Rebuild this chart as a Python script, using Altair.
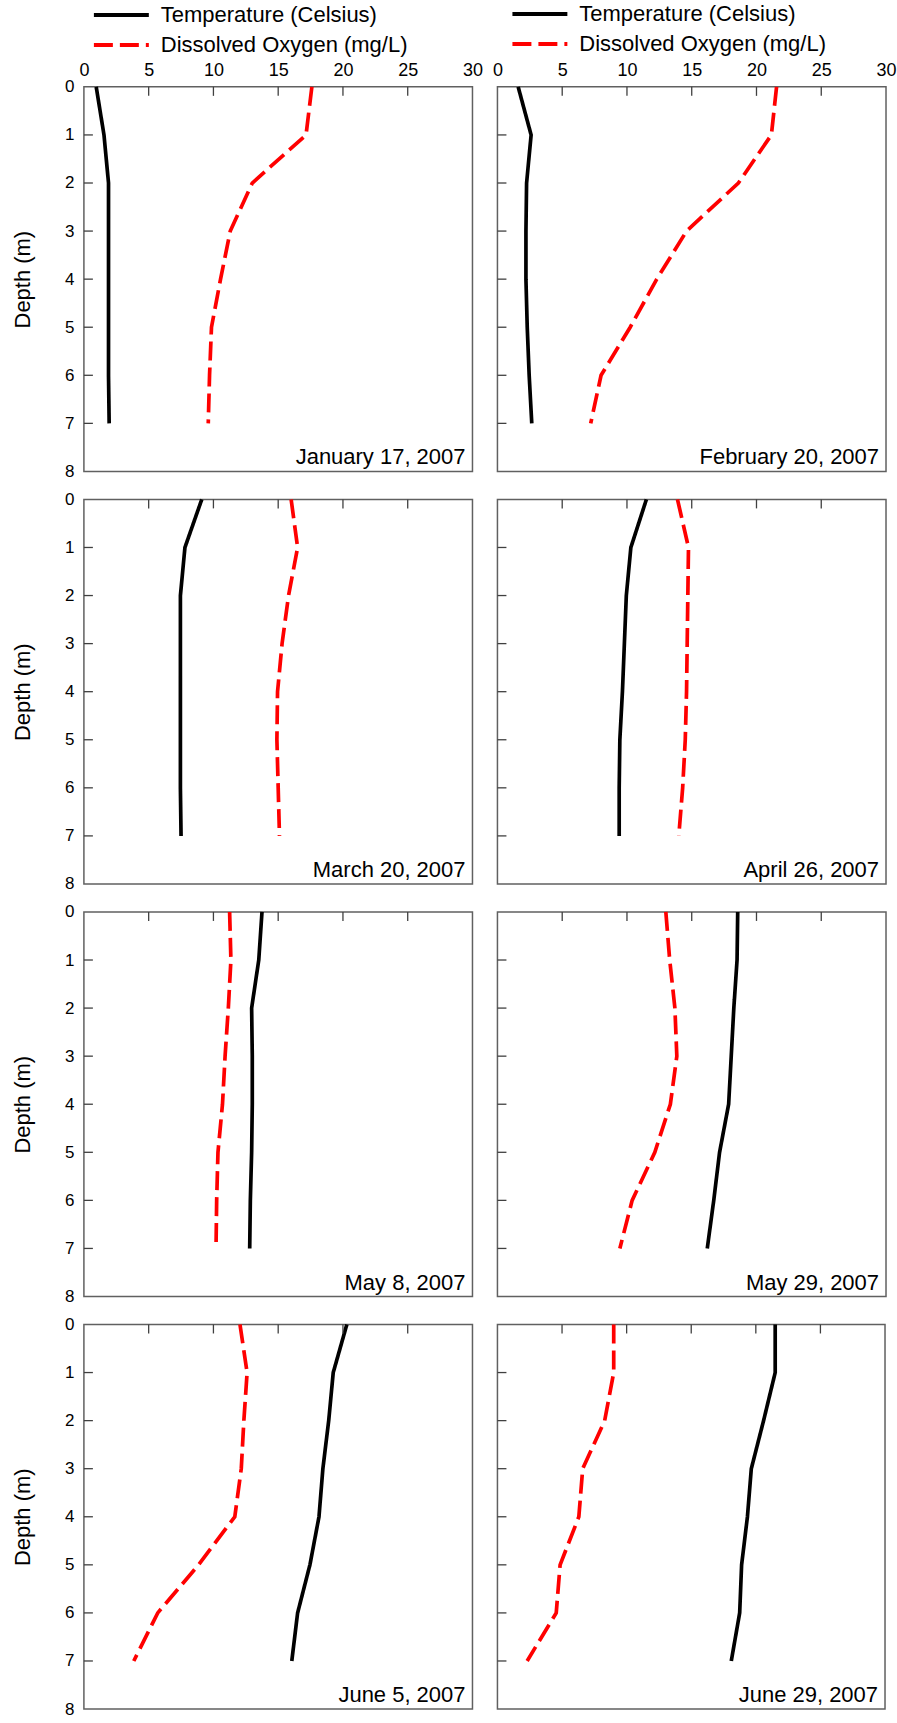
import altair as alt
import pandas as pd

# ---------------- data ----------------
depth = [0, 1, 2, 3, 4, 5, 6, 7]

dates = ["January 17, 2007", "February 20, 2007", "March 20, 2007", "April 26, 2007",
         "May 8, 2007", "May 29, 2007", "June 5, 2007", "June 29, 2007"]

temp_jan = [0.95, 1.55, 1.9, 1.9, 1.9, 1.9, 1.9, 1.95]
do_jan = [17.6, 17.15, 13.0, 11.3, 10.55, 9.85, 9.7, 9.6]
temp_feb = [1.6, 2.6, 2.25, 2.2, 2.2, 2.3, 2.45, 2.65]
do_feb = [21.55, 21.15, 18.6, 14.6, 12.3, 10.25, 8.0, 7.2]
temp_mar = [9.1, 7.8, 7.45, 7.45, 7.45, 7.45, 7.45, 7.5]
do_mar = [16.0, 16.5, 15.8, 15.3, 14.95, 14.9, 15.0, 15.1]
temp_apr = [11.5, 10.3, 9.95, 9.8, 9.65, 9.45, 9.4, 9.4]
do_apr = [13.9, 14.75, 14.7, 14.65, 14.6, 14.5, 14.3, 14.0]
temp_may8 = [13.75, 13.5, 12.95, 13.0, 13.0, 12.95, 12.85, 12.8]
do_may8 = [11.25, 11.35, 11.15, 10.9, 10.7, 10.35, 10.25, 10.2]
temp_may29 = [18.55, 18.5, 18.25, 18.05, 17.85, 17.15, 16.7, 16.2]
do_may29 = [13.0, 13.3, 13.7, 13.85, 13.35, 12.15, 10.4, 9.45]
temp_jun5 = [20.3, 19.25, 18.9, 18.45, 18.15, 17.45, 16.5, 16.05]
do_jun5 = [12.05, 12.6, 12.35, 12.15, 11.65, 8.85, 5.7, 3.85]
temp_jun29 = [21.5, 21.5, 20.6, 19.65, 19.35, 18.9, 18.75, 18.1]
do_jun29 = [9.0, 9.0, 8.3, 6.6, 6.3, 4.85, 4.55, 2.3]

x_tick_labels = [0, 5, 10, 15, 20, 25, 30]
y_tick_labels = [0, 1, 2, 3, 4, 5, 6, 7, 8]
x_inner_ticks = [5, 10, 15, 20, 25]
y_inner_ticks = [1, 2, 3, 4, 5, 6, 7]

series_names = ["Temperature (Celsius)", "Dissolved Oxygen (mg/L)"]

# ---------------- styling ----------------
FONT = "Liberation Sans, Arial, sans-serif"
W, H = 389, 385
TICK_COLOR = "#404040"


def make_panel(date, temp, dox, top, left, legend_pos=None, width=W):
    df = pd.DataFrame({
        "depth": depth + depth,
        "value": temp + dox,
        "variable": [series_names[0]] * len(depth) + [series_names[1]] * len(depth),
    })
    xscale = alt.Scale(domain=[0, 30], nice=False, zero=False)
    yscale = alt.Scale(domain=[0, 8], reverse=True, nice=False, zero=False)

    if top:
        xaxis = alt.Axis(orient="top", values=x_tick_labels, ticks=False, tickSize=0, domain=False,
                         grid=False, labelFontSize=18, labelPadding=11, labelBaseline="alphabetic",
                         labelFont=FONT, labelColor="black", title=None, labelFlush=False)
    else:
        xaxis = None
    if left:
        yaxis = alt.Axis(values=y_tick_labels, ticks=False, tickSize=0, domain=False, grid=False,
                         labelFontSize=17, labelPadding=10, labelFont=FONT, labelColor="black",
                         title="Depth (m)", titleFontSize=22, titleFontWeight="normal",
                         titleFont=FONT, titleColor="black", titlePadding=30)
    else:
        yaxis = None

    if legend_pos is not None:
        legend = alt.Legend(orient="none", legendX=legend_pos[0], legendY=legend_pos[1],
                            direction="vertical", title=None, labelFontSize=22, labelFont=FONT,
                            labelColor="black", symbolType="M-1,0H1", symbolSize=3025,
                            symbolStrokeWidth=4, labelOffset=10, rowPadding=6, clipHeight=24,
                            padding=0, labelLimit=400)
    else:
        legend = None

    lines = alt.Chart(df).mark_line(strokeWidth=3.7).encode(
        x=alt.X("value:Q", scale=xscale, axis=xaxis),
        y=alt.Y("depth:Q", scale=yscale, axis=yaxis),
        color=alt.Color("variable:N", scale=alt.Scale(domain=series_names, range=["black", "#ff0000"]),
                        legend=legend),
        strokeDash=alt.StrokeDash("variable:N",
                                  scale=alt.Scale(domain=series_names, range=[[1, 0], [19, 7]]),
                                  legend=legend),
        order=alt.Order("depth:Q"),
    )

    xt = alt.Chart(pd.DataFrame({"t": x_inner_ticks})).mark_rule(color=TICK_COLOR, strokeWidth=1.3).encode(
        x=alt.X("t:Q", scale=xscale, axis=xaxis),
        y=alt.value(0), y2=alt.value(9),
    )
    yt = alt.Chart(pd.DataFrame({"t": y_inner_ticks})).mark_rule(color=TICK_COLOR, strokeWidth=1.3).encode(
        y=alt.Y("t:Q", scale=yscale, axis=yaxis),
        x=alt.value(0), x2=alt.value(9),
    )
    label = alt.Chart(pd.DataFrame({"lx": [30], "ly": [8], "label": [date]})).mark_text(
        align="right", baseline="alphabetic", dx=-7, dy=-7, fontSize=22, font=FONT, color="black"
    ).encode(
        x=alt.X("lx:Q", scale=xscale, axis=xaxis),
        y=alt.Y("ly:Q", scale=yscale, axis=yaxis),
        text="label:N",
    )
    return alt.layer(lines, xt, yt, label).properties(width=width, height=H)


def spacer(w):
    return alt.Chart(pd.DataFrame({"a": [0]})).mark_point(opacity=0, size=1).encode(
        x=alt.value(w / 2), y=alt.value(H / 2)
    ).properties(width=w, height=H, view=alt.ViewBackground(stroke="transparent"))


# the page body has a default 8px margin, so everything is laid out 8px up/left of its target
LEFT = 74
cells = [
    spacer(LEFT), make_panel(dates[0], temp_jan, do_jan, True, True, (8, -84)),
    spacer(22), make_panel(dates[1], temp_feb, do_feb, True, False, (13, -85)),
    spacer(LEFT + 2), make_panel(dates[2], temp_mar, do_mar, False, True),
    spacer(20), make_panel(dates[3], temp_apr, do_apr, False, False),
    spacer(LEFT + 2), make_panel(dates[4], temp_may8, do_may8, False, True),
    spacer(23), make_panel(dates[5], temp_may29, do_may29, False, False),
    spacer(LEFT + 9), make_panel(dates[6], temp_jun5, do_jun5, False, True),
    spacer(25), make_panel(dates[7], temp_jun29, do_jun29, False, False, width=388),
]

chart = alt.concat(*cells, columns=4, spacing={"row": 28, "column": 0}, bounds="flush",
                   align="none").resolve_scale(
    color="independent", strokeDash="independent"
).properties(
    padding={"left": 0, "top": 0, "right": 0, "bottom": 0}
).configure(font=FONT).configure_view(stroke="#606060", strokeWidth=1.5)

chart.save("out.html", embed_options={"renderer": "svg", "actions": False})
